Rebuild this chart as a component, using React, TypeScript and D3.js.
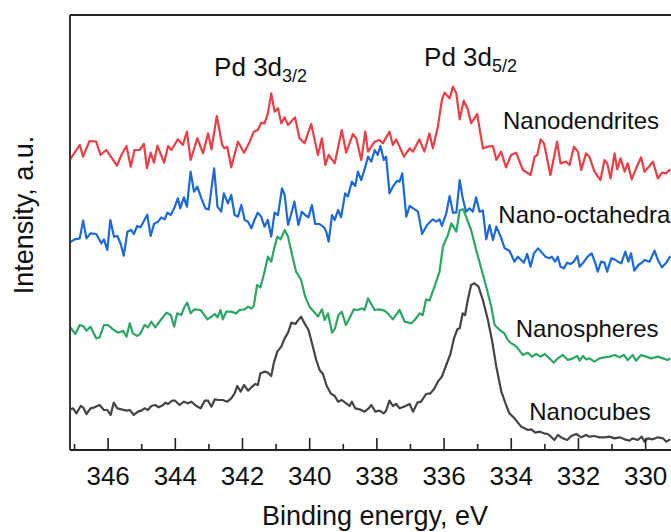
import React, { useEffect, useRef } from "react";
import * as d3 from "d3";

const W = 671;
const H = 532;
const margin = { top: 15, right: 0, bottom: 82, left: 70 };
const plotW = W - margin.left - margin.right;
const plotH = H - margin.top - margin.bottom;

const FONT = "'Liberation Sans', Arial, Helvetica, sans-serif";

// Binding energy runs right to left, as usual for XPS
const xDomain = [347.12, 329.23];
const yDomain = [0, 130.5];

const majorTicks = [346, 344, 342, 340, 338, 336, 334, 332, 330];
const minorTicks = [347, 345, 343, 341, 339, 337, 335, 333, 331];

// [binding energy eV, intensity a.u. (stacked)]
const nanodendrites = [
  [347.13, 87.0], [346.83, 91.5], [346.73, 88.0], [346.54, 92.7], [346.34, 92.5], [346.21, 88.5],
  [346.04, 90.0], [345.89, 87.8], [345.72, 85.3], [345.59, 88.5], [345.44, 91.2], [345.31, 85.0],
  [345.2, 90.0], [345.05, 90.0], [344.92, 91.8], [344.83, 84.5], [344.72, 89.2], [344.62, 86.2],
  [344.52, 91.3], [344.32, 86.2], [344.2, 91.2], [344.1, 90.0], [343.91, 93.2], [343.76, 91.5],
  [343.64, 95.5], [343.53, 87.0], [343.33, 93.5], [343.16, 89.0], [343.01, 95.0], [342.91, 90.2],
  [342.75, 100.2], [342.59, 91.5], [342.52, 90.5], [342.44, 91.0], [342.32, 84.8], [342.12, 92.5],
  [341.94, 89.2], [341.77, 92.5], [341.65, 95.5], [341.53, 96.0], [341.43, 98.2], [341.33, 98.0],
  [341.23, 101.0], [341.13, 107.0], [341.03, 101.5], [340.93, 102.5], [340.83, 98.0], [340.73, 99.8],
  [340.63, 97.5], [340.42, 99.8], [340.29, 93.5], [340.14, 92.0], [339.94, 97.8], [339.74, 88.5],
  [339.62, 93.5], [339.52, 85.5], [339.42, 88.5], [339.24, 86.0], [339.03, 96.0], [338.9, 89.2],
  [338.7, 94.8], [338.6, 93.5], [338.45, 87.0], [338.33, 95.5], [338.25, 89.5], [338.05, 92.5],
  [337.91, 93.0], [337.81, 92.0], [337.61, 95.5], [337.51, 91.5], [337.41, 93.2], [337.18, 88.0],
  [337.01, 90.5], [336.91, 89.5], [336.72, 93.2], [336.57, 89.5], [336.42, 95.0], [336.32, 90.5],
  [336.17, 97.0], [336.05, 105.0], [335.97, 107.2], [335.82, 105.5], [335.72, 109.0], [335.62, 107.0],
  [335.52, 99.2], [335.4, 104.8], [335.28, 102.2], [335.18, 98.0], [335.0, 100.8], [334.83, 90.5],
  [334.68, 91.0], [334.53, 91.2], [334.43, 87.0], [334.29, 89.5], [334.14, 84.8], [333.99, 88.5],
  [333.84, 89.2], [333.64, 84.0], [333.41, 82.5], [333.29, 88.0], [333.21, 88.5], [333.11, 93.2],
  [333.01, 92.0], [332.82, 82.5], [332.62, 92.5], [332.52, 86.0], [332.35, 86.5], [332.25, 85.5],
  [332.12, 91.0], [332.0, 89.5], [331.9, 84.0], [331.76, 89.0], [331.66, 88.0], [331.51, 83.5],
  [331.33, 81.0], [331.21, 87.0], [331.13, 86.0], [331.03, 81.5], [330.91, 89.0], [330.83, 84.2],
  [330.73, 87.5], [330.61, 83.5], [330.52, 86.0], [330.4, 81.2], [330.27, 84.5], [330.12, 87.8],
  [330.02, 83.5], [329.87, 85.2], [329.77, 86.5], [329.62, 81.5], [329.5, 83.2], [329.38, 83.0],
  [329.25, 84.2],
];

const nanoOctahedra = [
  [347.13, 62.2], [346.98, 63.2], [346.83, 63.5], [346.73, 68.8], [346.63, 63.5], [346.51, 65.0],
  [346.34, 64.8], [346.19, 62.0], [346.11, 63.2], [346.01, 60.0], [345.92, 69.0], [345.81, 64.0],
  [345.71, 64.2], [345.61, 61.8], [345.52, 58.3], [345.41, 65.5], [345.3, 66.0], [345.22, 64.8],
  [345.12, 67.2], [345.02, 66.8], [344.82, 70.6], [344.72, 64.2], [344.62, 67.8], [344.5, 68.5],
  [344.4, 69.8], [344.3, 69.2], [344.22, 71.2], [344.12, 70.5], [344.02, 72.5], [343.91, 75.5],
  [343.84, 72.5], [343.73, 75.8], [343.64, 73.0], [343.53, 83.5], [343.43, 77.5], [343.33, 79.0],
  [343.21, 75.5], [343.09, 72.5], [342.99, 72.2], [342.83, 84.5], [342.73, 73.0], [342.62, 71.5],
  [342.54, 77.0], [342.42, 74.0], [342.32, 76.5], [342.22, 70.5], [342.12, 70.0], [342.02, 73.5],
  [341.92, 69.0], [341.82, 68.5], [341.72, 66.5], [341.63, 69.0], [341.53, 71.2], [341.43, 70.0],
  [341.33, 67.0], [341.23, 69.0], [341.13, 64.0], [341.03, 71.2], [340.93, 70.5], [340.81, 78.5],
  [340.73, 76.5], [340.63, 67.5], [340.53, 71.0], [340.44, 74.5], [340.32, 67.5], [340.22, 71.5],
  [340.12, 70.5], [340.02, 69.8], [339.92, 73.5], [339.82, 67.8], [339.69, 67.8], [339.56, 66.8],
  [339.49, 65.5], [339.42, 62.5], [339.32, 70.5], [339.24, 69.0], [339.14, 72.0], [339.05, 69.8],
  [338.93, 77.0], [338.85, 76.0], [338.73, 80.5], [338.63, 79.2], [338.55, 83.5], [338.45, 81.0],
  [338.33, 85.0], [338.25, 88.0], [338.15, 86.5], [338.05, 90.0], [337.96, 88.5], [337.88, 91.2],
  [337.78, 87.0], [337.71, 88.0], [337.61, 77.0], [337.51, 79.0], [337.38, 80.8], [337.31, 80.5],
  [337.23, 83.0], [337.11, 70.0], [337.01, 73.2], [336.86, 72.2], [336.76, 71.5], [336.64, 64.8],
  [336.49, 67.5], [336.32, 69.2], [336.22, 68.5], [336.12, 69.2], [336.05, 67.2], [335.92, 71.0],
  [335.82, 76.2], [335.72, 71.2], [335.62, 71.2], [335.52, 81.0], [335.43, 75.5], [335.33, 71.5],
  [335.23, 72.5], [335.13, 71.5], [335.03, 75.8], [334.93, 71.5], [334.83, 71.8], [334.73, 63.2],
  [334.63, 67.5], [334.53, 63.0], [334.43, 67.0], [334.3, 64.0], [334.18, 60.5], [334.04, 59.8],
  [333.89, 56.5], [333.79, 58.0], [333.61, 56.2], [333.51, 58.8], [333.41, 55.0], [333.31, 59.0],
  [333.19, 60.5], [333.07, 59.2], [332.97, 58.0], [332.85, 57.5], [332.78, 58.0], [332.68, 56.5],
  [332.6, 58.0], [332.52, 55.0], [332.42, 54.5], [332.32, 56.2], [332.22, 55.8], [332.12, 56.5],
  [332.02, 58.2], [331.95, 55.0], [331.82, 56.5], [331.71, 58.0], [331.59, 59.0], [331.49, 56.2],
  [331.41, 53.5], [331.31, 56.5], [331.21, 56.2], [331.13, 53.5], [331.01, 57.5], [330.91, 57.2],
  [330.81, 56.5], [330.71, 56.0], [330.59, 59.5], [330.5, 56.5], [330.42, 59.0], [330.32, 53.8],
  [330.2, 55.5], [330.1, 56.2], [330.02, 57.0], [329.87, 56.5], [329.72, 59.8], [329.62, 57.0],
  [329.5, 54.8], [329.37, 56.2], [329.25, 58.2],
];

const nanospheres = [
  [347.13, 37.0], [346.96, 34.8], [346.83, 37.5], [346.73, 37.2], [346.63, 35.8], [346.51, 37.0],
  [346.34, 33.5], [346.24, 33.8], [346.11, 37.5], [345.99, 37.5], [345.84, 36.2], [345.69, 35.2],
  [345.54, 35.8], [345.44, 34.0], [345.34, 38.0], [345.25, 35.0], [345.12, 34.2], [345.02, 35.0],
  [344.9, 37.5], [344.8, 36.8], [344.7, 38.5], [344.58, 36.8], [344.42, 39.0], [344.25, 41.2],
  [344.12, 40.5], [344.02, 37.0], [343.93, 41.0], [343.81, 40.5], [343.71, 43.0], [343.63, 44.2],
  [343.53, 41.0], [343.41, 42.2], [343.23, 42.0], [343.03, 39.2], [342.91, 40.0], [342.81, 40.8],
  [342.73, 39.8], [342.64, 42.0], [342.57, 39.2], [342.47, 41.5], [342.32, 41.5], [342.17, 41.0],
  [342.07, 42.0], [341.92, 42.2], [341.82, 43.0], [341.72, 42.4], [341.65, 43.2], [341.55, 49.5],
  [341.45, 48.8], [341.33, 53.5], [341.23, 58.0], [341.13, 56.5], [341.03, 61.0], [340.95, 64.0],
  [340.85, 63.2], [340.73, 66.0], [340.63, 64.0], [340.52, 59.0], [340.39, 53.5], [340.24, 51.0],
  [340.12, 46.0], [339.99, 43.0], [339.86, 41.5], [339.74, 40.0], [339.62, 42.2], [339.54, 39.0],
  [339.44, 41.0], [339.32, 35.2], [339.23, 36.5], [339.13, 40.5], [339.03, 41.5], [338.91, 37.5],
  [338.8, 39.5], [338.67, 42.2], [338.55, 42.0], [338.43, 42.5], [338.35, 42.0], [338.25, 45.5],
  [338.05, 42.0], [337.91, 42.2], [337.76, 41.8], [337.66, 41.0], [337.51, 39.2], [337.31, 42.0],
  [337.16, 38.5], [336.96, 38.0], [336.86, 39.0], [336.71, 41.0], [336.62, 40.5], [336.52, 45.2],
  [336.42, 44.8], [336.27, 49.0], [336.12, 53.5], [336.02, 61.0], [335.87, 64.5], [335.77, 68.0],
  [335.62, 65.5], [335.52, 72.0], [335.41, 72.2], [335.33, 70.0], [335.18, 66.0], [335.03, 60.0],
  [334.88, 54.5], [334.73, 49.0], [334.58, 43.0], [334.48, 37.5], [334.33, 36.0], [334.19, 35.0],
  [334.09, 33.0], [333.99, 32.0], [333.89, 31.5], [333.79, 30.5], [333.64, 28.5], [333.49, 29.2],
  [333.37, 28.0], [333.24, 28.8], [333.11, 28.0], [332.99, 28.8], [332.85, 27.5], [332.72, 26.2],
  [332.6, 27.5], [332.45, 28.5], [332.3, 27.0], [332.15, 27.5], [332.02, 28.2], [331.95, 26.8],
  [331.85, 28.2], [331.76, 27.2], [331.66, 27.5], [331.51, 26.5], [331.36, 27.5], [331.21, 27.8],
  [331.06, 28.0], [330.91, 28.5], [330.76, 27.8], [330.63, 28.5], [330.52, 27.0], [330.37, 28.5],
  [330.27, 26.8], [330.12, 28.5], [329.97, 28.0], [329.82, 27.5], [329.62, 28.0], [329.47, 27.5],
  [329.33, 27.0], [329.25, 27.5],
];

const nanocubes = [
  [347.13, 12.0], [347.03, 12.5], [346.93, 11.0], [346.8, 13.2], [346.73, 12.8], [346.63, 10.8],
  [346.51, 12.5], [346.39, 12.8], [346.24, 13.5], [346.11, 12.0], [346.01, 12.0], [345.91, 10.5],
  [345.82, 14.2], [345.71, 12.5], [345.59, 12.2], [345.44, 11.8], [345.34, 12.0], [345.22, 10.5],
  [345.1, 11.5], [345.0, 11.8], [344.9, 12.5], [344.8, 12.0], [344.7, 13.2], [344.58, 13.5],
  [344.48, 12.8], [344.35, 13.5], [344.28, 14.2], [344.2, 13.8], [344.08, 14.8], [343.99, 14.8],
  [343.86, 13.5], [343.73, 14.5], [343.61, 14.0], [343.51, 14.5], [343.36, 13.2], [343.23, 12.5],
  [343.11, 14.8], [343.01, 14.8], [342.91, 13.0], [342.81, 15.2], [342.7, 15.0], [342.57, 15.0],
  [342.44, 14.5], [342.32, 15.5], [342.22, 17.0], [342.14, 19.2], [342.04, 17.5], [341.94, 19.5],
  [341.82, 17.8], [341.72, 18.8], [341.61, 19.8], [341.53, 19.5], [341.45, 23.0], [341.33, 23.5],
  [341.23, 23.2], [341.13, 22.2], [341.05, 26.2], [340.95, 29.5], [340.83, 31.0], [340.73, 33.5],
  [340.63, 35.2], [340.53, 38.2], [340.41, 37.8], [340.34, 38.8], [340.24, 40.0], [340.14, 38.0],
  [340.02, 36.0], [339.89, 31.0], [339.79, 27.0], [339.69, 24.0], [339.59, 22.8], [339.49, 19.5],
  [339.36, 17.0], [339.24, 16.2], [339.14, 14.5], [339.03, 15.0], [338.9, 14.0], [338.8, 13.2],
  [338.73, 14.5], [338.63, 12.5], [338.5, 12.2], [338.35, 11.5], [338.23, 12.5], [338.15, 13.5],
  [338.03, 11.5], [337.91, 11.8], [337.78, 11.0], [337.71, 11.8], [337.61, 14.8], [337.51, 13.2],
  [337.41, 13.8], [337.31, 12.5], [337.18, 13.0], [337.01, 13.8], [336.91, 11.5], [336.78, 14.2],
  [336.67, 14.5], [336.52, 16.8], [336.39, 17.0], [336.27, 18.5], [336.17, 20.5], [336.05, 22.0],
  [335.92, 25.5], [335.79, 29.0], [335.69, 33.5], [335.59, 36.2], [335.52, 36.5], [335.43, 41.0],
  [335.36, 40.5], [335.28, 45.0], [335.18, 49.5], [335.08, 50.0], [334.96, 49.0], [334.83, 45.0],
  [334.68, 39.0], [334.56, 33.0], [334.43, 25.0], [334.28, 17.5], [334.14, 13.5], [334.04, 11.0],
  [333.89, 9.5], [333.77, 8.0], [333.69, 7.0], [333.59, 6.5], [333.49, 6.0], [333.39, 6.2],
  [333.27, 5.2], [333.14, 5.5], [333.01, 5.0], [332.9, 4.8], [332.8, 4.0], [332.7, 3.0],
  [332.6, 4.5], [332.45, 3.5], [332.32, 3.0], [332.2, 4.2], [332.05, 4.8], [331.9, 3.8],
  [331.76, 4.5], [331.66, 4.0], [331.51, 4.2], [331.36, 3.8], [331.21, 3.8], [331.06, 4.0],
  [330.91, 3.5], [330.76, 3.8], [330.61, 3.2], [330.47, 2.8], [330.37, 3.5], [330.22, 3.0],
  [330.1, 4.0], [330.02, 2.5], [329.92, 3.5], [329.77, 3.2], [329.62, 3.8], [329.47, 3.5],
  [329.37, 2.5], [329.25, 3.2],
];

const seriesNames = ["Nanodendrites", "Nano-octahedra", "Nanospheres", "Nanocubes"];
const seriesData = [nanodendrites, nanoOctahedra, nanospheres, nanocubes];
const seriesColors = ["#ef3d45", "#1b69dc", "#2aa765", "#444444"];

// label anchors in data units [eV, intensity]
const seriesLabelAt = [
  [334.23, 96.3],
  [334.37, 68.0],
  [333.85, 34.0],
  [333.45, 9.0],
];

const peakLabels = [
  { main: "Pd 3d", sub: "3/2", at: [342.83, 112.2] },
  { main: "Pd 3d", sub: "5/2", at: [336.58, 115.2] },
];

export default function App() {
  const ref = useRef<SVGSVGElement>(null);

  useEffect(() => {
    const svg = d3.select(ref.current);
    svg.selectAll("*").remove();

    const x = d3.scaleLinear().domain(xDomain).range([margin.left, margin.left + plotW]);
    const y = d3.scaleLinear().domain(yDomain).range([margin.top + plotH, margin.top]);

    svg.append("defs")
      .append("clipPath")
      .attr("id", "plot-clip")
      .append("rect")
      .attr("x", margin.left + 1)
      .attr("y", margin.top + 1)
      .attr("width", plotW)
      .attr("height", plotH - 2);

    const line = d3.line<number[]>()
      .x(d => x(d[0]))
      .y(d => y(d[1]));

    const lines = svg.append("g").attr("clip-path", "url(#plot-clip)");
    seriesData.forEach((data, i) => {
      lines.append("path")
        .attr("d", line(data))
        .attr("fill", "none")
        .attr("stroke", seriesColors[i])
        .attr("stroke-width", 2.2)
        .attr("stroke-linejoin", "round");
    });

    // ticks point inward
    const xAxis = svg.append("g").attr("transform", `translate(0,${y(0)})`);
    xAxis.call(
      d3.axisBottom(x)
        .tickValues(majorTicks)
        .tickSize(-12)
        .tickPadding(17)
        .tickFormat(d3.format("d"))
    );
    xAxis.select(".domain").remove();
    xAxis.selectAll("line").attr("stroke", "#222").attr("stroke-width", 1.6);
    xAxis.selectAll("text")
      .attr("fill", "#111")
      .style("font-family", FONT)
      .style("font-size", "26px");

    const minor = svg.append("g").attr("transform", `translate(0,${y(0)})`);
    minor.call(d3.axisBottom(x).tickValues(minorTicks).tickSize(-6).tickFormat(() => ""));
    minor.select(".domain").remove();
    minor.selectAll("line").attr("stroke", "#222").attr("stroke-width", 1.6);

    // frame (right edge falls outside the picture)
    const frame = svg.append("g").attr("stroke", "#222").attr("stroke-width", 1.8).attr("fill", "none");
    frame.append("line").attr("x1", margin.left).attr("x2", W + 5).attr("y1", margin.top).attr("y2", margin.top);
    frame.append("line").attr("x1", margin.left).attr("x2", margin.left).attr("y1", margin.top).attr("y2", y(0));
    frame.append("line").attr("x1", margin.left).attr("x2", W + 5).attr("y1", y(0)).attr("y2", y(0));

    // series labels
    seriesNames.forEach((name, i) => {
      svg.append("text")
        .attr("x", x(seriesLabelAt[i][0]))
        .attr("y", y(seriesLabelAt[i][1]))
        .attr("fill", "#111")
        .style("font-family", FONT)
        .style("font-size", "24px")
        .text(name);
    });

    peakLabels.forEach(p => {
      const t = svg.append("text")
        .attr("x", x(p.at[0]))
        .attr("y", y(p.at[1]))
        .attr("fill", "#111")
        .style("font-family", FONT)
        .style("font-size", "26px");
      t.append("tspan").text(p.main);
      t.append("tspan").attr("dy", 6).style("font-size", "18px").text(p.sub);
    });

    // axis titles
    svg.append("text")
      .attr("x", 375)
      .attr("y", 525)
      .attr("text-anchor", "middle")
      .attr("fill", "#111")
      .style("font-family", FONT)
      .style("font-size", "27px")
      .text("Binding energy, eV");

    svg.append("text")
      .attr("transform", `translate(33,215) rotate(-90)`)
      .attr("text-anchor", "middle")
      .attr("fill", "#111")
      .style("font-family", FONT)
      .style("font-size", "27px")
      .text("Intensity, a.u.");
  }, []);

  return (
    <svg
      ref={ref}
      width={W}
      height={H}
      style={{ position: "absolute", left: 0, top: 0, background: "#fff" }}
    />
  );
}
